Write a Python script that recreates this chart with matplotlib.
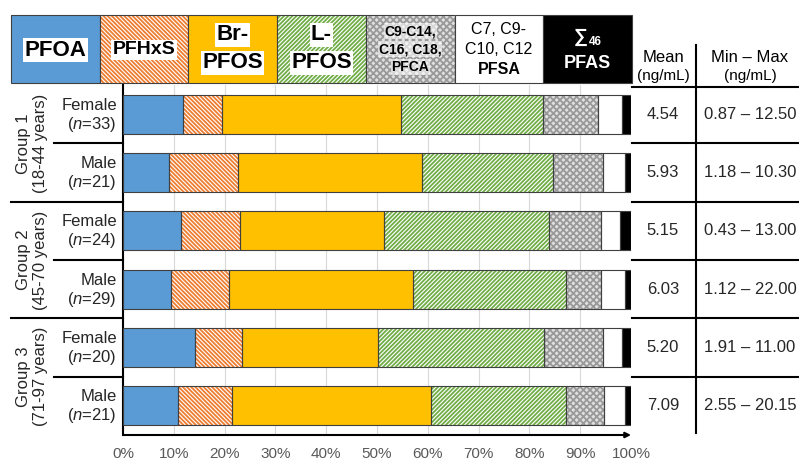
import numpy as np
import matplotlib
matplotlib.use("Agg")
import matplotlib.pyplot as plt
from matplotlib.patches import Rectangle

plt.rcParams['font.family'] = ['Liberation Sans', 'DejaVu Sans']
plt.rcParams['mathtext.fontset'] = 'custom'
plt.rcParams['mathtext.rm'] = 'Liberation Sans'
plt.rcParams['mathtext.it'] = 'Liberation Sans:italic'
plt.rcParams['hatch.linewidth'] = 1.3

# Share of each compound class in the summed PFAS (%), one value per row
pfoa = [11.9, 9.1, 11.4, 9.4, 14.2, 10.9]
pfhxs = [7.6, 13.5, 11.6, 11.5, 9.3, 10.5]
br_pfos = [35.2, 36.2, 28.4, 36.2, 26.6, 39.2]
l_pfos = [27.9, 25.9, 32.5, 30.1, 32.8, 26.6]
pfca = [11.0, 9.7, 10.2, 6.9, 11.6, 7.5]
pfsa = [4.6, 4.4, 3.7, 4.7, 3.7, 4.1]
other = [1.8, 1.2, 2.2, 1.2, 1.8, 1.2]

groups = ['Group 1\n(18-44 years)', 'Group 2\n(45-70 years)', 'Group 3\n(71-97 years)']
sexes = ['Female', 'Male', 'Female', 'Male', 'Female', 'Male']
n_counts = [33, 21, 24, 29, 20, 21]
means = ['4.54', '5.93', '5.15', '6.03', '5.20', '7.09']
ranges = ['0.87 – 12.50', '1.18 – 10.30', '0.43 – 13.00',
          '1.12 – 22.00', '1.91 – 11.00', '2.55 – 20.15']
xticks = [0, 10, 20, 30, 40, 50, 60, 70, 80, 90, 100]

# face colour, hatch, hatch colour
series = [
    (pfoa, '#5b9bd5', None, None),
    (pfhxs, 'white', '\\' * 8, '#ed7d31'),
    (br_pfos, '#ffc000', None, None),
    (l_pfos, 'white', '/' * 8, '#70ad47'),
    (pfca, '#e0e0e0', 'x' * 5, '#999999'),
    (pfsa, 'white', None, None),
    (other, 'black', None, None),
]

W, H = 799, 462
fig = plt.figure(figsize=(W / 100, H / 100), dpi=100)
ax = fig.add_axes([123 / W, 27 / H, 508 / W, 350 / H])

rows = np.arange(len(pfoa))
left = np.zeros(len(rows))
for vals, fc, hatch, hc in series:
    vals = np.array(vals)
    if hatch:
        ax.barh(rows, vals, left=left, height=0.67, color=fc, hatch=hatch,
                edgecolor=hc, linewidth=0, zorder=2)
    else:
        ax.barh(rows, vals, left=left, height=0.67, color=fc, linewidth=0, zorder=2)
    ax.barh(rows, vals, left=left, height=0.67, fill=False,
            edgecolor='#404040', linewidth=0.8, zorder=3)
    left += vals

ax.set_xlim(0, 100)
ax.set_ylim(len(rows) - 0.5, -0.5)
ax.set_yticks([])
ax.set_xticks(xticks)
ax.set_xticklabels([f'{t}%' for t in xticks], fontsize=11, color='#595959')
ax.tick_params(axis='x', length=0, pad=9)
ax.set_axisbelow(True)
ax.xaxis.grid(True, color='#d9d9d9', linewidth=0.8)
for s in ['top', 'right', 'bottom']:
    ax.spines[s].set_visible(False)
ax.spines['left'].set_linewidth(1.5)
ax.annotate('', xy=(1.0, 0), xytext=(0, 0), xycoords='axes fraction',
            textcoords='axes fraction',
            arrowprops=dict(arrowstyle='-|>', color='black', lw=1.5,
                            mutation_scale=8, shrinkA=0, shrinkB=0))

# overlay in pixel units for the legend header and the side tables
ov = fig.add_axes([0, 0, 1, 1])
ov.set_xlim(0, W)
ov.set_ylim(H, 0)
ov.axis('off')
ov.patch.set_alpha(0)

def row_y(i):
    return H - ax.transData.transform((0, i))[1]

# legend header boxes
edges = np.linspace(11, 632, 8)
for k, (vals, fc, hatch, hc) in enumerate(series):
    x0, x1 = edges[k], edges[k + 1]
    if hatch:
        ov.add_patch(Rectangle((x0, 15), x1 - x0, 68, facecolor=fc, hatch=hatch,
                               edgecolor=hc, linewidth=0))
    else:
        ov.add_patch(Rectangle((x0, 15), x1 - x0, 68, facecolor=fc, linewidth=0))
    ov.add_patch(Rectangle((x0, 15), x1 - x0, 68, fill=False,
                           edgecolor='#404040', linewidth=0.8))

cx = (edges[:-1] + edges[1:]) / 2
wbox = dict(facecolor='white', edgecolor='none', pad=1.0)
ov.text(cx[0], 50, 'PFOA', ha='center', va='center', fontsize=16,
        fontweight='bold', bbox=wbox)
ov.text(cx[1], 50, 'PFHxS', ha='center', va='center', fontsize=14,
        fontweight='bold', bbox=wbox)
for k, first in [(2, 'Br-'), (3, 'L-')]:
    ov.text(cx[k], 35, first, ha='center', va='center', fontsize=16,
            fontweight='bold', bbox=wbox)
    ov.text(cx[k], 63, 'PFOS', ha='center', va='center', fontsize=16,
            fontweight='bold', bbox=wbox)
for y, t in zip([31, 49, 67], ['C9-C14,', 'C16, C18,', 'PFCA']):
    ov.text(cx[4], y, t, ha='center', va='center', fontsize=10,
            fontweight='bold',
            bbox=dict(facecolor='white', edgecolor='none', alpha=0.6, pad=0.5))
ov.text(cx[5], 29, 'C7, C9-', ha='center', va='center', fontsize=11.5)
ov.text(cx[5], 49, 'C10, C12', ha='center', va='center', fontsize=11.5)
ov.text(cx[5], 70, 'PFSA', ha='center', va='center', fontsize=11.5,
        fontweight='bold')
ov.text(cx[6] - 7, 37, '∑', ha='center', va='center', fontsize=14,
        fontweight='bold', color='white')
ov.text(cx[6] + 8, 42, '46', ha='center', va='center', fontsize=8.5,
        fontweight='bold', color='white')
ov.text(cx[6], 64, 'PFAS', ha='center', va='center', fontsize=13,
        fontweight='bold', color='white')

# right table: mean and range
ov.text(663, 58, 'Mean', ha='center', va='center', fontsize=12)
ov.text(663, 76, '(ng/mL)', ha='center', va='center', fontsize=11)
ov.text(750, 58, 'Min – Max', ha='center', va='center', fontsize=12)
ov.text(750, 76, '(ng/mL)', ha='center', va='center', fontsize=11)
ov.plot([696, 696], [45, 433], color='black', lw=1.5)
ov.plot([632, W], [87, 87], color='black', lw=1.5)
for i in rows:
    y = row_y(i)
    ov.text(663, y, means[i], ha='center', va='center', fontsize=12, color='#262626')
    ov.text(750, y, ranges[i], ha='center', va='center', fontsize=12, color='#262626')
    if i < len(rows) - 1:
        ym = row_y(i + 0.5)
        ov.plot([632, W], [ym, ym], color='black', lw=1.5)
        # left label column: short rule inside a group, long rule between groups
        x_start = 54 if i % 2 == 0 else 11
        ov.plot([x_start, 123], [ym, ym], color='black', lw=1.5)
    ov.text(117, y - 9, sexes[i], ha='right', va='center', fontsize=12,
            color='#262626')
    ov.text(117, y + 10, rf'($\it{{n}}$={n_counts[i]})', ha='right', va='center',
            fontsize=12, color='#262626')

for g, label in enumerate(groups):
    yc = row_y(2 * g + 0.5)
    ov.text(32, yc, label, ha='center', va='center', rotation=90,
            fontsize=12, color='#262626', linespacing=1.1)

fig.savefig('out.png', dpi=100)
